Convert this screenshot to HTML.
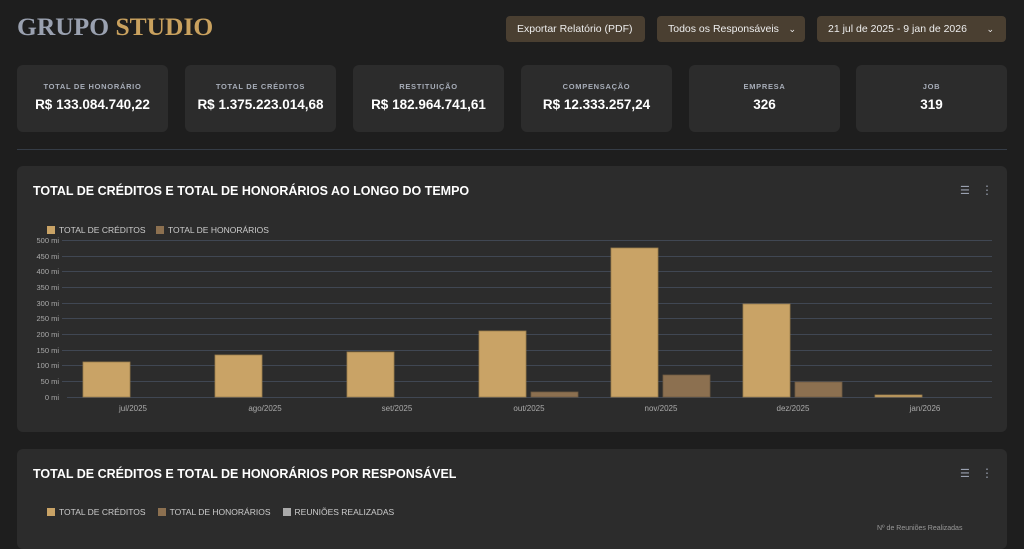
<!DOCTYPE html>
<html><head><meta charset="utf-8"><style>
*{margin:0;padding:0;box-sizing:border-box}
body{width:1024px;height:530px;overflow:hidden;background:#1e1e1e;font-family:"Liberation Sans",sans-serif;color:#fff;position:relative}
.abs{position:absolute}
.logo{left:17px;top:12px;font-family:"Liberation Serif",serif;font-size:25.5px;font-weight:bold;letter-spacing:0}
.btn{top:16px;height:26px;background:#4a3f31;border-radius:4px;font-size:10.5px;color:#eee;line-height:26px;padding-left:11px;white-space:nowrap}
.card{top:65px;height:67px;width:151px;background:#2c2c2c;border-radius:6px;text-align:center}
.card .t{margin-top:17px;font-size:7.5px;font-weight:bold;color:#a7adb8;letter-spacing:0.7px}
.card .v{margin-top:6px;font-size:13.5px;font-weight:bold}
.panel{left:17px;width:990px;background:#2c2c2c;border-radius:6px}
.ptitle{position:absolute;left:16px;font-size:12.5px;font-weight:bold}
.leg{font-size:8.5px;color:#ccc}
.sq{display:inline-block;width:8px;height:8px;vertical-align:-1px;margin-right:4px}
</style></head><body>
<div class="abs logo"><span style="color:#9aa1b0">GRUPO</span> <span style="color:#c9a15e">STUDIO</span></div>
<div class="abs btn" style="left:506px;width:139px">Exportar Relatório (PDF)</div>
<div class="abs btn" style="left:657px;width:148px">Todos os Responsáveis<span style="position:absolute;right:9px;font-size:9px">⌄</span></div>
<div class="abs btn" style="left:817px;width:189px">21 jul de 2025 - 9 jan de 2026<span style="position:absolute;right:12px;font-size:9px">⌄</span></div>
<div class="abs card" style="left:17px"><div class="t">TOTAL DE HONORÁRIO</div><div class="v">R$ 133.084.740,22</div></div>
<div class="abs card" style="left:185px"><div class="t">TOTAL DE CRÉDITOS</div><div class="v">R$ 1.375.223.014,68</div></div>
<div class="abs card" style="left:353px"><div class="t">RESTITUIÇÃO</div><div class="v">R$ 182.964.741,61</div></div>
<div class="abs card" style="left:521px"><div class="t">COMPENSAÇÃO</div><div class="v">R$ 12.333.257,24</div></div>
<div class="abs card" style="left:689px"><div class="t">EMPRESA</div><div class="v">326</div></div>
<div class="abs card" style="left:856px"><div class="t">JOB</div><div class="v">319</div></div>
<div class="abs" style="left:17px;top:149px;width:990px;height:1px;background:#353c46"></div>
<div class="abs" style="left:1008px;top:0;width:16px;height:530px;background:#1e1e1e"></div>

<div class="abs panel" style="top:166px;height:266px">
<div class="ptitle" style="top:18px">TOTAL DE CRÉDITOS E TOTAL DE HONORÁRIOS AO LONGO DO TEMPO</div>
<div class="abs" style="left:943px;top:18px;color:#9aa1b0;font-size:11px">☰</div>
<div class="abs" style="left:964px;top:17px;color:#9aa1b0;font-size:12px">⋮</div>
</div>
<svg class="abs" style="left:0;top:0" width="1024" height="530">
<g font-family="Liberation Sans" font-size="8.5" fill="#ccc">
<rect x="47" y="226" width="8" height="8" fill="#c9a366"/><text x="59" y="233">TOTAL DE CRÉDITOS</text>
<rect x="156" y="226" width="8" height="8" fill="#8c7050"/><text x="168" y="233">TOTAL DE HONORÁRIOS</text>
</g>
<g stroke="#404753" stroke-width="1">
<line x1="62" x2="992" y1="240.5" y2="240.5"/><line x1="62" x2="992" y1="256.5" y2="256.5"/>
<line x1="62" x2="992" y1="271.5" y2="271.5"/><line x1="62" x2="992" y1="287.5" y2="287.5"/>
<line x1="62" x2="992" y1="303.5" y2="303.5"/><line x1="62" x2="992" y1="318.5" y2="318.5"/>
<line x1="62" x2="992" y1="334.5" y2="334.5"/><line x1="62" x2="992" y1="350.5" y2="350.5"/>
<line x1="62" x2="992" y1="365.5" y2="365.5"/><line x1="62" x2="992" y1="381.5" y2="381.5"/>
<line x1="67" x2="992" y1="397.5" y2="397.5"/>
</g>
<g font-family="Liberation Sans" font-size="7.5" fill="#aaa" text-anchor="end">
<text x="59" y="243">500 mi</text><text x="59" y="259">450 mi</text><text x="59" y="274">400 mi</text>
<text x="59" y="290">350 mi</text><text x="59" y="306">300 mi</text><text x="59" y="321">250 mi</text>
<text x="59" y="337">200 mi</text><text x="59" y="353">150 mi</text><text x="59" y="368">100 mi</text>
<text x="59" y="384">50 mi</text><text x="59" y="400">0 mi</text>
</g>
<g fill="#c9a366" stroke="#9a7c4c" stroke-width="0.8">
<rect x="83" y="362" width="47" height="35"/><rect x="215" y="355" width="47" height="42"/>
<rect x="347" y="352" width="47" height="45"/><rect x="479" y="331" width="47" height="66"/>
<rect x="611" y="248" width="47" height="149"/><rect x="743" y="304" width="47" height="93"/>
<rect x="875" y="395" width="47" height="2"/>
</g>
<g fill="#8c7050" stroke="#6e5a40" stroke-width="0.8">
<rect x="531" y="392" width="47" height="5"/><rect x="663" y="375" width="47" height="22"/>
<rect x="795" y="382" width="47" height="15"/>
</g>
<g font-family="Liberation Sans" font-size="8" fill="#aaa" text-anchor="middle">
<text x="133" y="411">jul/2025</text><text x="265" y="411">ago/2025</text><text x="397" y="411">set/2025</text>
<text x="529" y="411">out/2025</text><text x="661" y="411">nov/2025</text><text x="793" y="411">dez/2025</text>
<text x="925" y="411">jan/2026</text>
</g>
</svg>

<div class="abs panel" style="top:449px;height:100px">
<div class="ptitle" style="top:18px">TOTAL DE CRÉDITOS E TOTAL DE HONORÁRIOS POR RESPONSÁVEL</div>
<div class="abs" style="left:943px;top:18px;color:#9aa1b0;font-size:11px">☰</div>
<div class="abs" style="left:964px;top:17px;color:#9aa1b0;font-size:12px">⋮</div>
<div class="abs leg" style="left:30px;top:58px"><span class="sq" style="background:#c9a366"></span>TOTAL DE CRÉDITOS<span class="sq" style="background:#8c7050;margin-left:12px"></span>TOTAL DE HONORÁRIOS<span class="sq" style="background:#aaa;margin-left:12px"></span>REUNIÕES REALIZADAS</div>
<div class="abs" style="left:860px;top:76px;font-size:7px;color:#999">Nº de Reuniões Realizadas</div>
</div>
</body></html>
